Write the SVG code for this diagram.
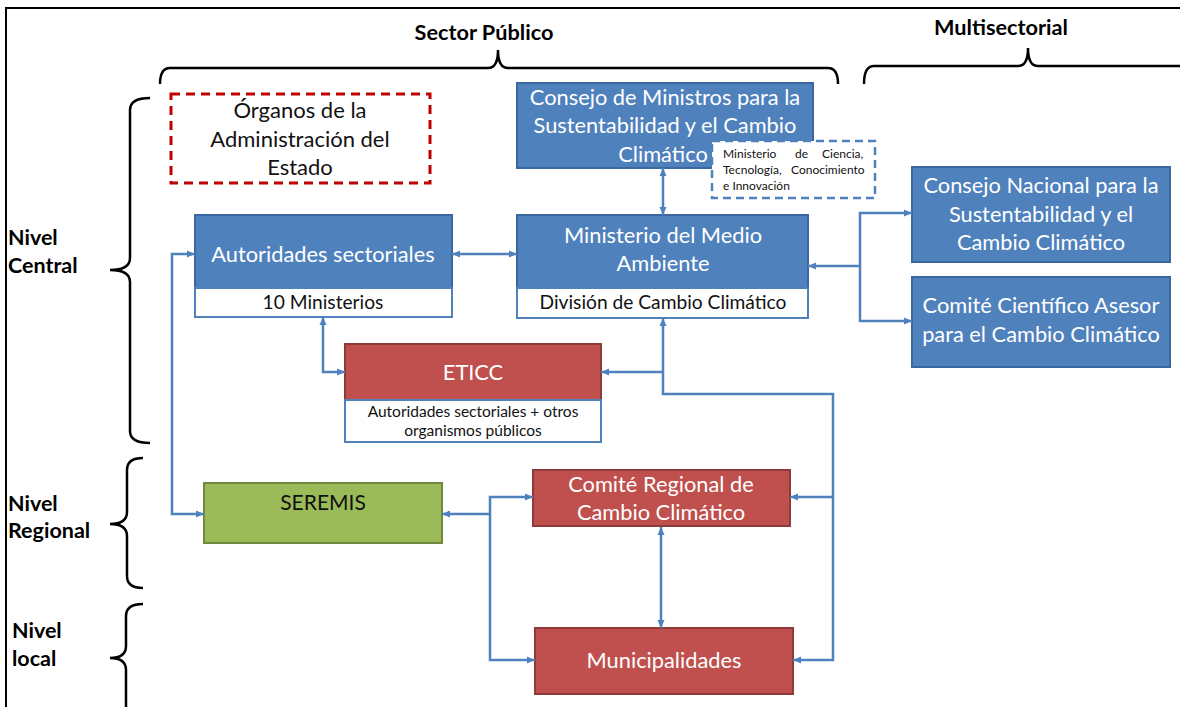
<svg xmlns="http://www.w3.org/2000/svg" width="1180" height="707" viewBox="0 0 1180 707">
<defs>
<marker id="arr" viewBox="0 0 8 8" refX="8" refY="4" markerWidth="8" markerHeight="8" markerUnits="userSpaceOnUse" orient="auto-start-reverse">
<path d="M0,0.5 L8,4 L0,7.5 z" fill="#4F81BD"/>
</marker>
</defs>
<style>
text{font-family:Lato,"Open Sans","Liberation Sans",sans-serif;}
.hdr{font-size:21.7px;font-weight:bold;fill:#000;}
.lvl{font-size:21.5px;font-weight:bold;fill:#000;}
.brace{fill:none;stroke:#000;stroke-width:2.5;}
.blue{fill:#4F81BD;stroke:#3A67A0;stroke-width:2;}
.red{fill:#C0504D;stroke:#8E3A38;stroke-width:2;}
.green{fill:#9BBB59;stroke:#71893F;stroke-width:2;}
.sub{fill:#fff;stroke:#4F81BD;stroke-width:2;}
.wt{font-size:21.8px;fill:#fff;text-anchor:middle;}
.bt{font-size:19.2px;fill:#111;text-anchor:middle;}
.st{font-size:15.5px;fill:#111;text-anchor:middle;}
.sm{font-size:12px;fill:#111;}
.con{fill:none;stroke:#4F81BD;stroke-width:2.5;}
</style>
<rect width="1180" height="707" fill="#fff"/>
<rect x="6" y="8" width="1200" height="720" fill="none" stroke="#000" stroke-width="2"/>

<g id="headers">
<text class="hdr" x="484" y="40" text-anchor="middle">Sector Público</text>
<text class="hdr" x="1001" y="35" text-anchor="middle">Multisectorial</text>
<path class="brace" d="M160,84 Q160,68 170,68 L488,68 Q498,68 498,50 Q498,68 508,68 L828,68 Q838,68 838,84"/>
<path class="brace" d="M864,84 Q864,66 874,66 L1018,66 Q1028,66 1028,48 Q1028,66 1038,66 L1190,66"/>
</g>

<g id="levels">
<text class="lvl" x="8" y="245">Nivel</text>
<text class="lvl" x="8" y="273">Central</text>
<text class="lvl" x="8" y="511">Nivel</text>
<text class="lvl" x="8" y="538">Regional</text>
<text class="lvl" x="12" y="638">Nivel</text>
<text class="lvl" x="12" y="666">local</text>
<path class="brace" d="M150,98 Q130,98 130,110 L130,258 Q130,270 110,270 Q130,270 130,282 L130,431 Q130,443 150,443"/>
<path class="brace" d="M143,458 Q127,458 127,470 L127,512 Q127,524 110,524 Q127,524 127,536 L127,576 Q127,588 143,588"/>
<path class="brace" d="M143,604 Q126,604 126,616 L126,646 Q126,658 110,658 Q126,658 126,670 L126,712"/>
</g>

<g id="organos">
<rect x="171" y="94" width="259" height="89" fill="none" stroke="#C00000" stroke-width="3" stroke-dasharray="9,6"/>
<text x="300" y="118" font-size="22" fill="#111" text-anchor="middle">Órganos de la</text>
<text x="300" y="147" font-size="22" fill="#111" text-anchor="middle">Administración del</text>
<text x="300" y="175" font-size="22" fill="#111" text-anchor="middle">Estado</text>
</g>

<g id="consejo-ministros">
<rect class="blue" x="517" y="83" width="296" height="85"/>
<text class="wt" x="665" y="105">Consejo de Ministros para la</text>
<text class="wt" x="665" y="133">Sustentabilidad y el Cambio</text>
<text class="wt" x="663" y="162">Climático</text>
</g>

<g id="ministerio-ciencia">
<rect x="712" y="141" width="163" height="57" fill="#fff" stroke="#4F81BD" stroke-width="2.5" stroke-dasharray="8,5"/>
<text class="sm" y="158"><tspan x="723">Ministerio</tspan><tspan x="795">de</tspan><tspan x="822">Ciencia,</tspan></text>
<text class="sm" y="174"><tspan x="723">Tecnología,</tspan><tspan x="791">Conocimiento</tspan></text>
<text class="sm" x="723" y="190">e Innovación</text>
</g>

<g id="autoridades">
<rect class="blue" x="195" y="215" width="257" height="73"/>
<rect class="sub" x="195" y="288" width="257" height="29"/>
<text class="wt" x="323" y="262">Autoridades sectoriales</text>
<text class="bt" x="323" y="309">10 Ministerios</text>
</g>

<g id="ministerio-medio-ambiente">
<rect class="blue" x="517" y="215" width="291" height="73"/>
<rect class="sub" x="517" y="288" width="291" height="30"/>
<text class="wt" x="663" y="243">Ministerio del Medio</text>
<text class="wt" x="663" y="271">Ambiente</text>
<text class="bt" x="663" y="309">División de Cambio Climático</text>
</g>

<g id="consejo-nacional">
<rect class="blue" x="912" y="167" width="258" height="95"/>
<text class="wt" x="1041" y="193">Consejo Nacional para la</text>
<text class="wt" x="1041" y="222">Sustentabilidad y el</text>
<text class="wt" x="1041" y="250">Cambio Climático</text>
</g>

<g id="comite-cientifico">
<rect class="blue" x="912" y="277" width="258" height="90"/>
<text class="wt" x="1041" y="313">Comité Científico Asesor</text>
<text class="wt" x="1041" y="342">para el Cambio Climático</text>
</g>

<g id="eticc">
<rect class="red" x="345" y="344" width="256" height="56"/>
<rect class="sub" x="345" y="400" width="256" height="42"/>
<text class="wt" x="473" y="380">ETICC</text>
<text class="st" x="473" y="417">Autoridades sectoriales + otros</text>
<text class="st" x="473" y="436">organismos públicos</text>
</g>

<g id="seremis">
<rect class="green" x="204" y="483" width="238" height="60"/>
<text x="323" y="510" font-size="21" fill="#111" text-anchor="middle">SEREMIS</text>
</g>

<g id="comite-regional">
<rect class="red" x="533" y="470" width="257" height="56"/>
<text class="wt" x="661" y="492">Comité Regional de</text>
<text class="wt" x="661" y="520">Cambio Climático</text>
</g>

<g id="municipalidades">
<rect class="red" x="535" y="628" width="258" height="66"/>
<text class="wt" x="664" y="668">Municipalidades</text>
</g>

<g id="connectors">
<path class="con" d="M663,168 L663,215" marker-start="url(#arr)" marker-end="url(#arr)"/>
<path class="con" d="M452,254 L517,254" marker-start="url(#arr)" marker-end="url(#arr)"/>
<path class="con" d="M860,266 L808,266" marker-end="url(#arr)"/>
<path class="con" d="M912,213 L860,213 L860,321 L912,321" marker-start="url(#arr)" marker-end="url(#arr)"/>
<path class="con" d="M663,318 L663,394 L833,394 L833,660 L793,660" marker-start="url(#arr)" marker-end="url(#arr)"/>
<path class="con" d="M663,372 L601,372" marker-end="url(#arr)"/>
<path class="con" d="M833,497 L790,497" marker-end="url(#arr)"/>
<path class="con" d="M323,317 L323,372 L345,372" marker-start="url(#arr)" marker-end="url(#arr)"/>
<path class="con" d="M195,254 L172,254 L172,514 L204,514" marker-start="url(#arr)" marker-end="url(#arr)"/>
<path class="con" d="M490,514 L442,514" marker-end="url(#arr)"/>
<path class="con" d="M533,497 L490,497 L490,660 L535,660" marker-start="url(#arr)" marker-end="url(#arr)"/>
<path class="con" d="M661,527 L661,628" marker-start="url(#arr)" marker-end="url(#arr)"/>
</g>
</svg>
